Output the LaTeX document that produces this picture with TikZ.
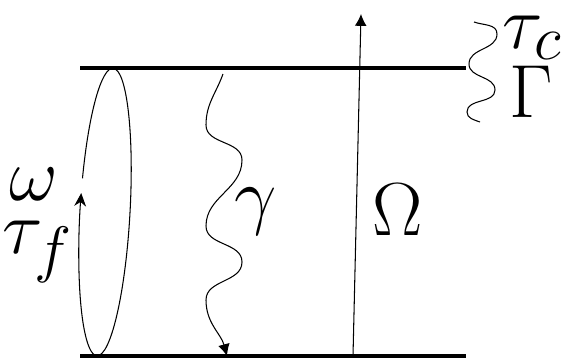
\documentclass[tikz,border=0pt]{standalone}
\usepackage{amsmath,amssymb}
\usetikzlibrary{arrows.meta}

\begin{document}
\begin{tikzpicture}[x=0.38pt,y=0.38pt,
    level/.style={line width=1.2pt},
    lbl/.style={font=\Huge,inner sep=0pt,scale=1.15},
    fat/.style={-{Latex[length=4.5pt,width=4.5pt]}}]
    \useasboundingbox (0,0) rectangle (566,362);
    % levels
    \coordinate (eL) at (80,294);
    \coordinate (eR) at (466,294);
    \coordinate (gL) at (80,6);
    \coordinate (gR) at (466,6);
    \draw[level] (eL) -- (eR);
    \draw[level] (gL) -- (gR);
    % loop
    \coordinate (lc) at (105,150);
    \begin{scope}[rotate around={-3.2:(lc)}]
        \draw (105,294) arc[start angle=90,end angle=-90,x radius=25,y radius=144];
        \draw[-{Stealth[length=5pt,width=4.5pt]}] (105,6) arc[start angle=270,end angle=173,x radius=25,y radius=144];
        \draw (80.64,182.4) arc[start angle=167,end angle=90,x radius=25,y radius=144];
    \end{scope}
    % decay down
    \coordinate (gs) at (223,288);
    \coordinate (ge) at (227,6);
    \draw[fat] (gs) to[out=-110,in=90] (206,237) to[out=-90,in=90] (242,202)
        to[out=-90,in=90] (206,136) to[out=-90,in=90] (242,100)
        to[out=-90,in=90] (206,62) to[out=-90,in=105] (ge);
    % drive
    \coordinate (ws) at (353,6);
    \coordinate (we) at (361,348);
    \draw[fat] (ws) -- (we);
    % loss
    \coordinate (ls) at (474,340);
    \coordinate (le) at (480,240);
    \draw (ls) to[out=-20,in=90] (497,328) to[out=-90,in=90] (469,298)
        to[out=-90,in=90] (495,272) to[out=-90,in=90] (467,250) to[out=-90,in=160] (le);
    % labels
    \node[lbl] (tc) at (532,324) {$\tau_c$};
    \node[lbl] (G) at (531,270) {$\Gamma$};
    \node[lbl] (w) at (34,178) {$\omega$};
    \node[lbl] (tf) at (38,110) {$\tau_f$};
    \node[lbl] (g) at (256,150) {$\gamma$};
    \node[lbl] (O) at (398,152) {$\Omega$};
\end{tikzpicture}
\end{document}
